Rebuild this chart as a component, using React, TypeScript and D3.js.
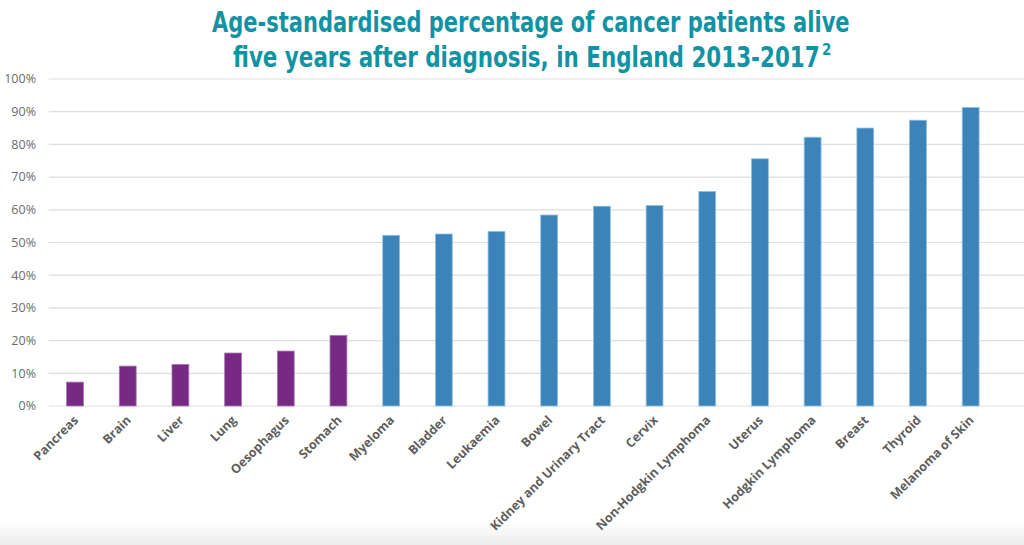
import { useRef, useEffect } from "react";
import * as d3 from "d3";

const categories = [
  "Pancreas", "Brain", "Liver", "Lung", "Oesophagus", "Stomach",
  "Myeloma", "Bladder", "Leukaemia", "Bowel", "Kidney and Urinary Tract",
  "Cervix", "Non-Hodgkin Lymphoma", "Uterus", "Hodgkin Lymphoma",
  "Breast", "Thyroid", "Melanoma of Skin",
];
const survival = [
  7.3, 12.2, 12.7, 16.2, 16.8, 21.6,
  52.2, 52.6, 53.4, 58.4, 61.1,
  61.3, 65.6, 75.6, 82.2,
  85.0, 87.4, 91.3,
];
// first six are the low-survival group (purple)
const lowGroup = ["Pancreas", "Brain", "Liver", "Lung", "Oesophagus", "Stomach"];
const yTicks = [0, 10, 20, 30, 40, 50, 60, 70, 80, 90, 100];

const W = 1024;
const H = 545;
const X0 = 48.7;
const X1 = 997;
const Y0 = 406;
const Y1 = 79;

export default function App() {
  const svgRef = useRef<SVGSVGElement>(null);

  useEffect(() => {
    if (!svgRef.current) return;
    const svg = d3.select(svgRef.current);
    svg.selectAll("*").remove();

    const defs = svg.append("defs");
    const grad = defs.append("linearGradient")
      .attr("id", "shade")
      .attr("x1", "0").attr("y1", "0").attr("x2", "0").attr("y2", "1");
    grad.append("stop").attr("offset", "0%").attr("stop-color", "#ffffff");
    grad.append("stop").attr("offset", "100%").attr("stop-color", "#ededed");

    svg.append("rect").attr("width", W).attr("height", H).attr("fill", "#fff");
    svg.append("rect")
      .attr("x", 0).attr("y", 522).attr("width", W).attr("height", 23)
      .attr("fill", "url(#shade)");

    const x = d3.scaleBand().domain(categories).range([X0, X1]).paddingInner(0.68).paddingOuter(0.34);
    const y = d3.scaleLinear().domain([0, 100]).range([Y0, Y1]);

    // Title - the original face is condensed, so squeeze horizontally to fit
    const title = svg.append("g")
      .attr("font-family", "'DejaVu Sans Condensed', 'DejaVu Sans', sans-serif")
      .attr("font-weight", "bold")
      .attr("fill", "#1193a4");
    const squeezed = (txt: string, left: number, baseline: number, width: number) => {
      const t = title.append("text")
        .attr("font-size", 29)
        .text(txt);
      const len = (t.node() as SVGTextElement).getComputedTextLength() || width;
      t.attr("transform", `translate(${left},${baseline}) scale(${width / len},1)`);
    };
    squeezed("Age-standardised percentage of cancer patients alive", 212, 32, 638);
    squeezed("five years after diagnosis, in England 2013-2017", 233, 67, 587);
    title.append("text")
      .attr("x", 822).attr("y", 55)
      .attr("font-size", 15)
      .text("2");

    // Gridlines + y labels
    const grid = svg.append("g");
    grid.selectAll("line")
      .data(yTicks)
      .join("line")
      .attr("x1", X0).attr("x2", W)
      .attr("y1", d => y(d)).attr("y2", d => y(d))
      .attr("stroke", "#dedede")
      .attr("stroke-width", 1.2);
    grid.selectAll("text")
      .data(yTicks)
      .join("text")
      .attr("x", 36)
      .attr("y", d => y(d))
      .attr("dy", "0.35em")
      .attr("text-anchor", "end")
      .attr("font-family", "'Open Sans', sans-serif")
      .attr("font-size", 12.5)
      .attr("fill", "#6b6b6b")
      .text(d => `${d}%`);

    // Bars
    svg.append("g")
      .selectAll("rect")
      .data(categories)
      .join("rect")
      .attr("x", d => x(d)!)
      .attr("width", x.bandwidth())
      .attr("y", (_, i) => y(survival[i]))
      .attr("height", (_, i) => Y0 - y(survival[i]))
      .attr("fill", d => lowGroup.includes(d) ? "#762a83" : "#3c83b9")
      .attr("stroke", d => lowGroup.includes(d) ? "#a47aae" : "#8fc0e2")
      .attr("stroke-width", 0.8);

    // X labels
    svg.append("g")
      .selectAll("text")
      .data(categories)
      .join("text")
      .attr("transform", d => `translate(${x(d)! + x.bandwidth() / 2 + 4},${Y0 + 15}) rotate(-45)`)
      .attr("text-anchor", "end")
      .attr("font-family", "'Open Sans', sans-serif")
      .attr("font-weight", "bold")
      .attr("font-size", 12.5)
      .attr("fill", "#5e5e5e")
      .text(d => d);
  }, []);

  return (
    <svg
      ref={svgRef}
      width={W}
      height={H}
      style={{ position: "absolute", left: 0, top: 0, display: "block" }}
    />
  );
}
